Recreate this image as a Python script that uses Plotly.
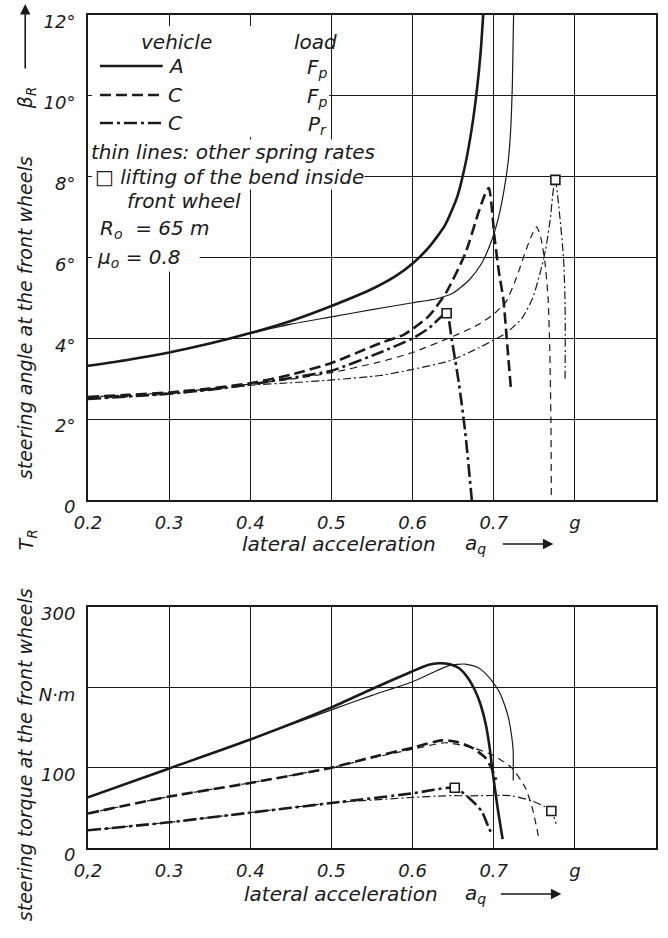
import plotly.graph_objects as go
from plotly.subplots import make_subplots

# ---------------- data: steering angle (top) ----------------
a_thick_x = [0.2, 0.25, 0.3, 0.35, 0.4, 0.45, 0.5, 0.55, 0.58, 0.6, 0.62, 0.64, 0.655, 0.665, 0.673, 0.679, 0.684, 0.687]
a_thick_y = [3.32, 3.47, 3.65, 3.87, 4.13, 4.43, 4.8, 5.22, 5.55, 5.85, 6.25, 6.8, 7.5, 8.3, 9.2, 10.1, 11.1, 12.0]

a_thin_x = [0.2, 0.25, 0.3, 0.35, 0.4, 0.45, 0.5, 0.55, 0.6, 0.63, 0.65, 0.67, 0.685, 0.698, 0.706, 0.713, 0.718, 0.721, 0.723, 0.7245]
a_thin_y = [3.32, 3.47, 3.65, 3.87, 4.12, 4.35, 4.53, 4.71, 4.88, 4.98, 5.12, 5.45, 5.85, 6.45, 7.0, 7.7, 8.4, 9.2, 10.3, 12.0]

cf_thick_x = [0.2, 0.25, 0.3, 0.35, 0.4, 0.45, 0.5, 0.56, 0.59, 0.62, 0.641, 0.665, 0.681, 0.689, 0.694, 0.701, 0.706, 0.712, 0.716, 0.721]
cf_thick_y = [2.55, 2.6, 2.66, 2.76, 2.89, 3.1, 3.39, 3.88, 4.1, 4.55, 5.12, 6.1, 7.1, 7.55, 7.72, 6.5, 5.7, 4.95, 4.0, 2.8]

cp_thick_x = [0.2, 0.25, 0.3, 0.35, 0.4, 0.45, 0.5, 0.56, 0.6, 0.62, 0.642, 0.648, 0.657, 0.665, 0.673]
cp_thick_y = [2.5, 2.56, 2.63, 2.73, 2.86, 3.02, 3.2, 3.65, 4.0, 4.25, 4.62, 4.0, 2.9, 1.66, 0.0]

cf_thin_x = [0.2, 0.25, 0.3, 0.35, 0.4, 0.45, 0.5, 0.56, 0.6, 0.65, 0.68, 0.7, 0.715, 0.728, 0.74, 0.748, 0.753, 0.758, 0.763, 0.767, 0.769, 0.7705, 0.771]
cf_thin_y = [2.55, 2.6, 2.65, 2.75, 2.87, 2.99, 3.15, 3.42, 3.65, 4.05, 4.33, 4.6, 4.9, 5.5, 6.2, 6.6, 6.76, 6.5, 5.9, 5.0, 3.8, 2.0, 0.0]

cp_thin_x = [0.2, 0.25, 0.3, 0.35, 0.4, 0.45, 0.5, 0.56, 0.6, 0.648, 0.68, 0.715, 0.735, 0.748, 0.757, 0.764, 0.77, 0.773, 0.776, 0.781, 0.786, 0.788, 0.788]
cp_thin_y = [2.5, 2.56, 2.62, 2.72, 2.84, 2.9, 2.97, 3.08, 3.23, 3.46, 3.75, 4.13, 4.5, 5.0, 5.6, 6.2, 7.0, 7.6, 7.92, 7.1, 6.0, 4.8, 3.0]

lift_top_x = [0.642, 0.776]
lift_top_y = [4.62, 7.92]

# ---------------- data: steering torque (bottom) ----------------
ta_thick_x = [0.2, 0.3, 0.4, 0.5, 0.55, 0.6, 0.62, 0.632, 0.645, 0.657, 0.668, 0.677, 0.684, 0.69, 0.695, 0.698, 0.702, 0.706, 0.711]
ta_thick_y = [63, 99, 135, 175, 198, 220, 228, 230, 229, 224, 212, 196, 178, 155, 125, 100, 70, 42, 11]

ta_thin_x = [0.2, 0.3, 0.4, 0.5, 0.55, 0.6, 0.645, 0.665, 0.68, 0.69, 0.7, 0.706, 0.712, 0.718, 0.722, 0.724, 0.724]
ta_thin_y = [63, 99, 135, 172, 190, 207, 227, 229, 225, 217, 205, 196, 182, 163, 140, 121, 84]

tcf_thick_x = [0.2, 0.3, 0.4, 0.5, 0.55, 0.6, 0.636, 0.655, 0.673, 0.69, 0.698, 0.703]
tcf_thick_y = [43, 64, 81, 100, 113, 125, 134, 132, 125, 112, 98, 85]

tcf_thin_x = [0.2, 0.3, 0.4, 0.5, 0.55, 0.6, 0.64, 0.673, 0.7, 0.722, 0.739, 0.748, 0.755]
tcf_thin_y = [43, 64, 81, 100, 112, 123, 131, 125, 115, 100, 75, 48, 15]

tcp_thick_x = [0.2, 0.3, 0.4, 0.5, 0.6, 0.652, 0.669, 0.685, 0.694, 0.698]
tcp_thick_y = [22, 32, 44, 56, 68, 75, 63, 46, 25, 17]

tcp_thin_x = [0.2, 0.3, 0.4, 0.5, 0.6, 0.64, 0.673, 0.722, 0.746, 0.762, 0.771, 0.777]
tcp_thin_y = [22, 32, 44, 56, 63, 65, 65, 65, 59, 52, 46, 30]

lift_bot_x = [0.652, 0.771]
lift_bot_y = [75, 46]

x_ticks = [0.2, 0.3, 0.4, 0.5, 0.6, 0.7, 0.8]
x_ticktext_top = ["0.2", "0.3", "0.4", "0.5", "0.6", "0.7", "g"]
x_ticktext_bot = ["0,2", "0.3", "0.4", "0.5", "0.6", "0.7", "g"]
y_ticks_top = [0, 2, 4, 6, 8, 10, 12]
y_ticktext_top = ["0", "2°", "4°", "6°", "8°", "10°", "12°"]
y_ticks_bot = [0, 100, 200, 300]
y_ticktext_bot = ["0", "100", "N·m", "300"]

# ---------------- styles ----------------
INK = "#1a1a1a"
FONT = "DejaVu Sans"
THICK, THIN = 2.6, 1.2
D_THICK, DD_THICK = "11px,5px", "13px,4px,3px,4px"
D_THIN, DD_THIN = "7px,5px", "8px,3px,2px,3px"

W, H = 668, 938
ML, MR, MT, MB = 88, 10, 15, 90
PW, PH = W - ML - MR, H - MT - MB

def yp(py):
    return (H - MB - py) / PH

def xp(px):
    return (px - ML) / PW

fig = make_subplots(rows=2, cols=1)

def add(x, y, width, dash, row):
    fig.add_trace(go.Scatter(x=x, y=y, mode="lines", showlegend=False,
                             line=dict(color=INK, width=width, dash=dash, shape="spline", smoothing=0.6)),
                  row=row, col=1)

add(a_thick_x, a_thick_y, THICK, "solid", 1)
add(a_thin_x, a_thin_y, THIN, "solid", 1)
add(cf_thick_x, cf_thick_y, THICK, D_THICK, 1)
add(cf_thin_x, cf_thin_y, THIN, D_THIN, 1)
add(cp_thick_x, cp_thick_y, THICK, DD_THICK, 1)
add(cp_thin_x, cp_thin_y, THIN, DD_THIN, 1)

add(ta_thick_x, ta_thick_y, THICK, "solid", 2)
add(ta_thin_x, ta_thin_y, THIN, "solid", 2)
add(tcf_thick_x, tcf_thick_y, THICK, D_THICK, 2)
add(tcf_thin_x, tcf_thin_y, THIN, D_THIN, 2)
add(tcp_thick_x, tcp_thick_y, THICK, DD_THICK, 2)
add(tcp_thin_x, tcp_thin_y, THIN, DD_THIN, 2)

sq = dict(symbol="square", size=9, color="white", line=dict(color=INK, width=1.6))
fig.add_trace(go.Scatter(x=lift_top_x, y=lift_top_y, mode="markers", marker=sq, showlegend=False), row=1, col=1)
fig.add_trace(go.Scatter(x=lift_bot_x, y=lift_bot_y, mode="markers", marker=sq, showlegend=False), row=2, col=1)

tickfont = dict(family=FONT, size=18, color=INK, style="italic")
axcommon = dict(showline=True, mirror=True, linecolor=INK, linewidth=2,
                showgrid=True, gridcolor=INK, gridwidth=1.3, zeroline=False,
                ticks="", tickfont=tickfont)

fig.update_xaxes(range=[0.2, 0.9], tickvals=x_ticks, ticktext=x_ticktext_top, ticklabelstandoff=5, **axcommon, row=1, col=1)
fig.update_xaxes(range=[0.2, 0.9], tickvals=x_ticks, ticktext=x_ticktext_bot, ticklabelstandoff=5, **axcommon, row=2, col=1)
fig.update_yaxes(range=[0, 12], tickvals=y_ticks_top, ticktext=y_ticktext_top, ticklabelshift=7, ticklabelstandoff=7, **axcommon, row=1, col=1)
fig.update_yaxes(range=[0, 300], tickvals=y_ticks_bot, ticktext=y_ticktext_bot, ticklabelshift=7, ticklabelstandoff=7, **axcommon, row=2, col=1)

fig.update_layout(
    width=W, height=H,
    margin=dict(l=ML, r=MR, t=MT, b=MB),
    paper_bgcolor="white", plot_bgcolor="white",
    xaxis=dict(domain=[0, 1]), xaxis2=dict(domain=[0, 1]),
    yaxis=dict(domain=[yp(500), 1]),
    yaxis2=dict(domain=[0, yp(607)]),
)

# ---------------- in-plot key (top chart) ----------------
def fx(px):
    return (px - 88) / 570

def fy(py):
    return (500 - py) / 485

shapes = []
# white masks breaking the grid behind the key
shapes.append(dict(type="rect", xref="x domain", yref="y domain", layer="above",
                   x0=fx(92), x1=fx(330), y0=fy(137), y1=fy(26),
                   fillcolor="white", line=dict(width=0)))
shapes.append(dict(type="rect", xref="x domain", yref="y domain", layer="above",
                   x0=fx(92), x1=fx(200), y0=fy(270), y1=fy(137),
                   fillcolor="white", line=dict(width=0)))
for py, dash in [(66, "solid"), (95, D_THICK), (123, DD_THICK)]:
    shapes.append(dict(type="line", xref="x domain", yref="y domain", layer="above",
                       x0=fx(100), x1=fx(163), y0=fy(py), y1=fy(py),
                       line=dict(color=INK, width=THICK, dash=dash)))
fig.update_layout(shapes=shapes)

ann = []
LS = 20

def txt(text, px, py, anchor="left", size=LS, bg=None):
    d = dict(text=text, xref="x domain", yref="y domain", x=fx(px), y=fy(py),
             xanchor=anchor, yanchor="middle", showarrow=False,
             font=dict(family=FONT, size=size, color=INK, style="italic"))
    if bg:
        d.update(bgcolor=bg, borderpad=0)
    ann.append(d)

txt("vehicle", 177, 42, "center")
txt("load", 316, 42, "center")
txt("A", 166, 66)
txt("F<sub>p</sub>", 318, 68, "center")
txt("C", 166, 95)
txt("F<sub>p</sub>", 318, 97, "center")
txt("C", 166, 123)
txt("P<sub>r</sub>", 318, 125, "center")
txt("thin lines: other spring rates", 90, 152, bg="white")
txt("□ lifting of the bend inside", 94, 177, bg="white")
txt("front wheel", 126, 201, bg="white")
txt("R<sub>o</sub>  = 65 m", 99, 229, bg="white")
txt("μ<sub>o</sub> = 0.8", 96, 258, bg="white")

# axis titles
def ptxt(text, px, py, angle=0, size=20, anchor="left"):
    ann.append(dict(text=text, xref="paper", yref="paper", x=xp(px), y=yp(py),
                    xanchor=anchor, yanchor="middle", showarrow=False, textangle=angle,
                    font=dict(family=FONT, size=size, color=INK, style="italic")))

def arrow(px_tip, py_tip, ax, ay):
    ann.append(dict(text="", xref="paper", yref="paper", x=xp(px_tip), y=yp(py_tip),
                    ax=ax, ay=ay, showarrow=True, arrowhead=2, arrowsize=1.3,
                    arrowwidth=1.6, arrowcolor=INK))

ptxt("lateral acceleration", 241, 544)
ptxt("a<sub>q</sub>", 477, 544, anchor="center")
arrow(555, 544, -52, 0)
ptxt("lateral acceleration", 243, 894)
ptxt("a<sub>q</sub>", 477, 894, anchor="center")
arrow(563, 894, -62, 0)

ptxt("steering angle at the front wheels", 25, 318, angle=-90, size=19, anchor="center")
ptxt("β<sub>R</sub>", 27, 98, angle=-90, size=19, anchor="center")
arrow(25, 4, 0, 66)
ptxt("steering torque at the front wheels", 25, 755, angle=-90, size=19, anchor="center")
ptxt("T<sub>R</sub>", 27, 540, angle=-90, size=19, anchor="center")

fig.update_layout(annotations=ann)

fig.write_html("out.html")
